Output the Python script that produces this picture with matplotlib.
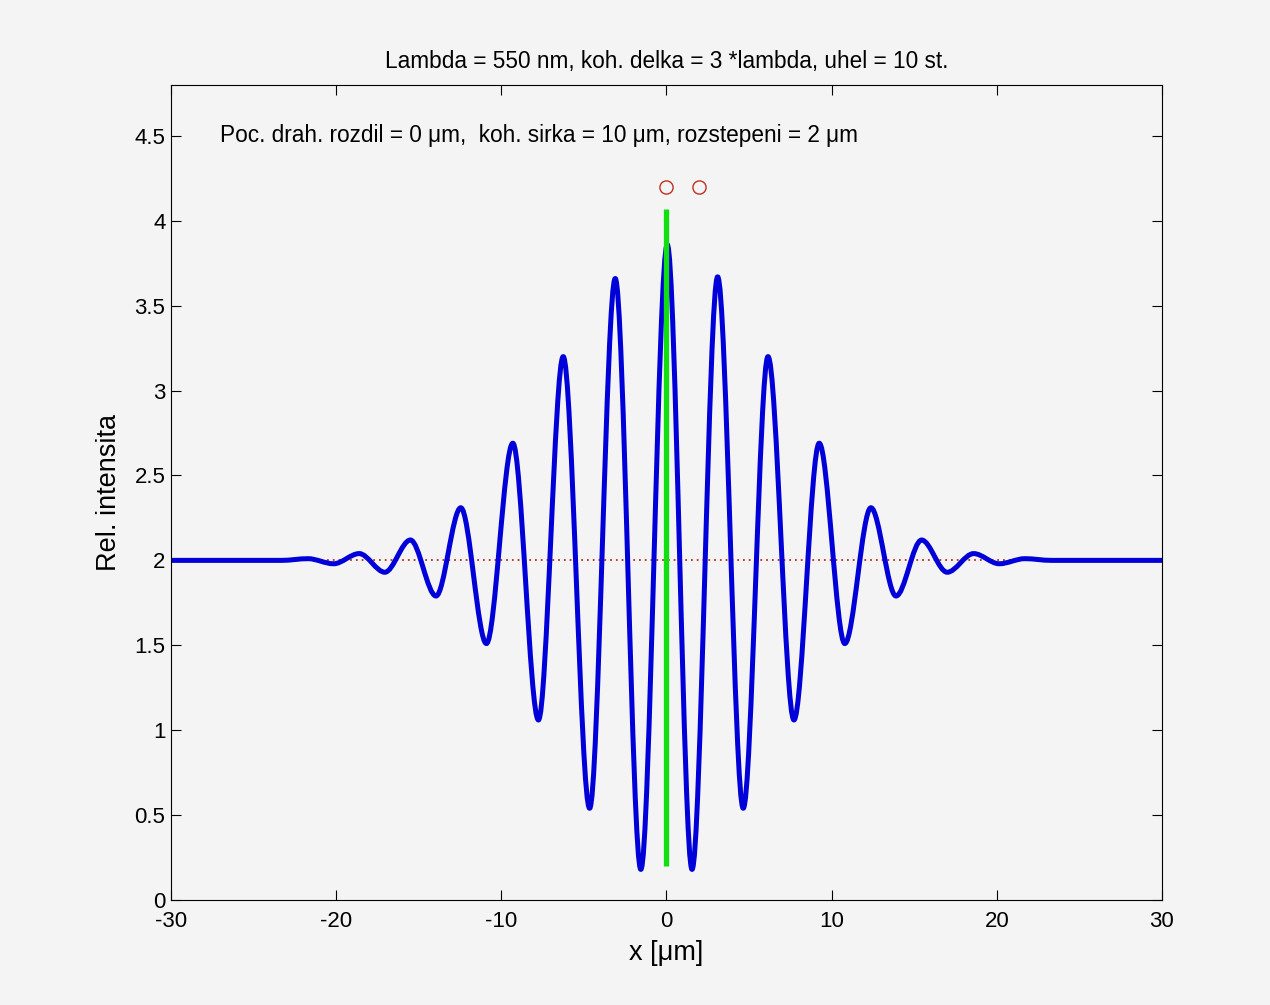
import matplotlib
matplotlib.use("Agg")
import matplotlib.pyplot as plt
from matplotlib.path import Path
from matplotlib.patches import PathPatch

plt.rcParams['font.family'] = ['Liberation Sans', 'DejaVu Sans']

# extremes of the interference pattern (x in um, relative intensity)
x_ext = [-30.0, -23.3, -21.7, -20.15, -18.6, -17.05, -15.5, -13.95, -12.45,
         -10.9, -9.3, -7.75, -6.25, -4.65, -3.1, -1.55, 0.05, 1.55, 3.1,
         4.65, 6.15, 7.72, 9.25, 10.8, 12.38, 13.9, 15.45, 17.0, 18.6,
         20.15, 21.7, 23.3, 30.0]
y_ext = [2.0, 2.0, 2.01, 1.98, 2.04, 1.93, 2.12, 1.79, 2.31,
         1.51, 2.69, 1.06, 3.2, 0.54, 3.66, 0.18, 3.86, 0.18, 3.67,
         0.54, 3.2, 1.06, 2.69, 1.51, 2.31, 1.79, 2.12, 1.93, 2.04,
         1.98, 2.01, 2.0, 2.0]

# zero path difference marker and the two source points
zero_x = [0.0, 0.0]
zero_y = [0.2, 4.07]
src_x = [0.0, 2.0]
src_y = [4.2, 4.2]
mean_level = 2.0

x_ticks = [-30, -20, -10, 0, 10, 20, 30]
y_ticks = [0, 0.5, 1, 1.5, 2, 2.5, 3, 3.5, 4, 4.5]

bg = '#f4f4f4'
fig = plt.figure(figsize=(12.7, 10.05), dpi=100, facecolor=bg)
ax = fig.add_axes([0.1346, 0.1045, 0.7803, 0.811], facecolor=bg)

ax.axhline(mean_level, color='#b83020', lw=1.3, ls=(0, (1, 2.2)), zorder=1)

# smooth curve through the extremes (horizontal tangent at every extreme)
verts = [(x_ext[0], y_ext[0])]
codes = [Path.MOVETO]
for i in range(1, len(x_ext)):
    x0, y0 = x_ext[i - 1], y_ext[i - 1]
    x1, y1 = x_ext[i], y_ext[i]
    dx = x1 - x0
    verts += [(x0 + dx / 3, y0), (x1 - dx / 3, y1), (x1, y1)]
    codes += [Path.CURVE4] * 3
ax.add_patch(PathPatch(Path(verts, codes), fill=False, edgecolor='#0000d8',
                       lw=3.6, capstyle='round', joinstyle='round', zorder=2))

ax.plot(zero_x, zero_y, color='#10e010', lw=3.8, solid_capstyle='butt', zorder=3)
ax.plot(src_x, src_y, 'o', mfc='none', mec='#c03020', ms=9.5, mew=1.0, zorder=4)

ax.text(-27, 4.5, 'Poc. drah. rozdil = 0 μm,  koh. sirka = 10 μm, rozstepeni = 2 μm',
        fontsize=16.3, va='center', ha='left')
ax.set_title('Lambda = 550 nm, koh. delka = 3 *lambda, uhel = 10 st.',
             fontsize=16.3, pad=12)

ax.set_xlim(-30, 30)
ax.set_ylim(0, 4.8)
ax.set_xticks(x_ticks)
ax.set_yticks(y_ticks)
ax.set_xticklabels([str(t) for t in x_ticks])
ax.set_yticklabels(['0', '0.5', '1', '1.5', '2', '2.5', '3', '3.5', '4', '4.5'])
ax.tick_params(direction='in', length=7, width=0.8, labelsize=16,
               top=True, right=True, pad=4)
ax.tick_params(axis='x', pad=8)
for s in ax.spines.values():
    s.set_linewidth(0.8)

ax.set_xlabel('x [μm]', fontsize=19.5, labelpad=6)
ax.set_ylabel('Rel. intensita', fontsize=19.5, labelpad=9)

fig.savefig('out.png', dpi=100, facecolor=bg)
